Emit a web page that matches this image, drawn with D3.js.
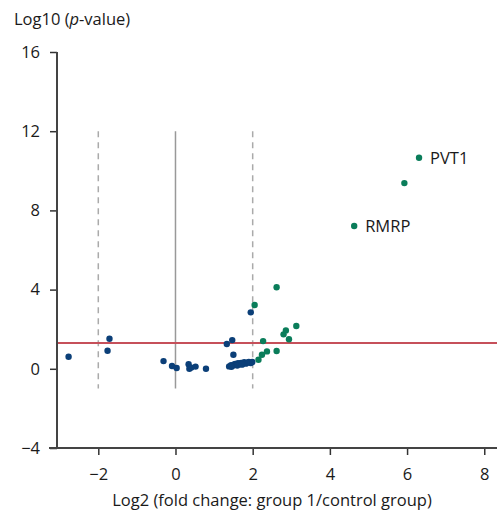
<!DOCTYPE html>
<html>
<head>
<meta charset="utf-8">
<script src="https://cdn.jsdelivr.net/npm/d3@7"></script>
<style>
  body { margin: 0; background: #fff; }
  text { font-family: "Open Sans", Lato, sans-serif; fill: #1a1a1a; }
</style>
</head>
<body>
<div id="chart"></div>
<script>
// log2 fold change / -log10 p-value
const downX = [-2.77, -1.76, -1.71, -0.31, -0.09, 0.03, 0.34, 0.36, 0.41, 0.52, 0.79,
  1.33, 1.47, 1.50, 1.95, 1.39, 1.44, 1.48, 1.52, 1.55, 1.58, 1.62, 1.66, 1.70, 1.74,
  1.78, 1.82, 1.86, 1.90, 1.95, 1.99, 1.45, 1.60, 1.72];
const downY = [0.61, 0.91, 1.52, 0.39, 0.14, 0.04, 0.23, 0.00, 0.06, 0.11, 0.00,
  1.25, 1.45, 0.71, 2.85, 0.12, 0.18, 0.15, 0.22, 0.25, 0.20, 0.28, 0.24, 0.30, 0.27,
  0.33, 0.26, 0.31, 0.35, 0.29, 0.34, 0.10, 0.17, 0.21];
const upX = [2.05, 2.62, 2.27, 2.80, 2.86, 2.94, 3.13, 2.15, 2.24, 2.37, 2.62, 4.63, 5.93, 6.31];
const upY = [3.22, 4.12, 1.40, 1.74, 1.94, 1.49, 2.16, 0.46, 0.71, 0.88, 0.90, 7.21, 9.38, 10.66];
const labels = [{ i: 11, name: "RMRP" }, { i: 13, name: "PVT1" }];
const xTicks = [-2, 0, 2, 4, 6, 8];
const yTicks = [-4, 0, 4, 8, 12, 16];
const cutoffP = 1.301;
const foldLines = [-2, 2];

const W = 497, H = 516;
const svg = d3.select("#chart").append("svg").attr("width", W).attr("height", H);

const x = d3.scaleLinear().domain([-3.07, 8.33]).range([57, 497]);
const y = d3.scaleLinear().domain([-4, 16]).range([448, 52]);
const fmt = d => d < 0 ? "\u2212" + Math.abs(d) : d;

// guide lines
foldLines.forEach(v => {
  svg.append("line")
    .attr("x1", x(v)).attr("x2", x(v)).attr("y1", y(12)).attr("y2", y(-1))
    .attr("stroke", "#aaa").attr("stroke-width", 1.5).attr("stroke-dasharray", "6,5");
});
svg.append("line")
  .attr("x1", x(0)).attr("x2", x(0)).attr("y1", y(12)).attr("y2", y(-1))
  .attr("stroke", "#999").attr("stroke-width", 1.5);
svg.append("line")
  .attr("x1", x.range()[0]).attr("x2", W).attr("y1", y(cutoffP)).attr("y2", y(cutoffP))
  .attr("stroke", "#c6505a").attr("stroke-width", 2);

// axes
const xAxis = svg.append("g").attr("transform", `translate(0,${y(-4)})`)
  .call(d3.axisBottom(x).tickValues(xTicks).tickSize(7).tickPadding(13).tickFormat(fmt));
const yAxis = svg.append("g").attr("transform", `translate(${x.range()[0]},0)`)
  .call(d3.axisLeft(y).tickValues(yTicks).tickSize(7).tickPadding(10).tickFormat(fmt));
[xAxis, yAxis].forEach(g => {
  g.select(".domain").remove();
  g.selectAll(".tick line").attr("stroke", "#333").attr("stroke-width", 1.5);
  g.selectAll(".tick text").style("font-size", "16.5px").attr("fill", "#1a1a1a");
});
svg.append("line").attr("x1", 49).attr("x2", W).attr("y1", y(-4)).attr("y2", y(-4))
  .attr("stroke", "#444").attr("stroke-width", 2);
svg.append("line").attr("x1", x.range()[0]).attr("x2", x.range()[0]).attr("y1", y(16)).attr("y2", y(-4))
  .attr("stroke", "#444").attr("stroke-width", 2);

// titles
const yt = svg.append("text").attr("x", 14).attr("y", 25).style("font-size", "16.5px");
yt.append("tspan").text("Log10 (");
yt.append("tspan").attr("font-style", "italic").text("p");
yt.append("tspan").text("-value)");
svg.append("text").attr("x", 272).attr("y", 506).attr("text-anchor", "middle")
  .style("font-size", "16.5px").text("Log2 (fold change: group 1/control group)");

// points
svg.append("g").selectAll("circle").data(downX).join("circle")
  .attr("cx", d => x(d)).attr("cy", (d, i) => y(downY[i])).attr("r", 3.2)
  .attr("fill", "#0b3f78");
svg.append("g").selectAll("circle").data(upX).join("circle")
  .attr("cx", d => x(d)).attr("cy", (d, i) => y(upY[i])).attr("r", 3.2)
  .attr("fill", "#0a7d5a");

svg.append("g").selectAll("text").data(labels).join("text")
  .attr("x", d => x(upX[d.i]) + 11).attr("y", d => y(upY[d.i]) + 6)
  .style("font-size", "16.5px").text(d => d.name);
</script>
</body>
</html>
